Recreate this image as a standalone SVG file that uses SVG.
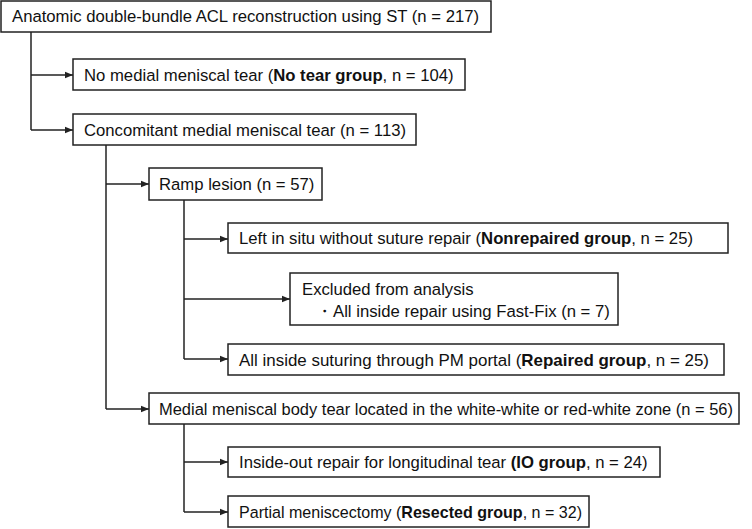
<svg xmlns="http://www.w3.org/2000/svg" width="752" height="529" viewBox="0 0 752 529">
<style>
.box{fill:#fff;stroke:#222;stroke-width:1.5}
.t{font-family:"Liberation Sans",Arial,sans-serif;font-size:16.7px;fill:#111}
.b{font-weight:bold}
.c{fill:none;stroke:#222;stroke-width:1.5}
</style>
<defs>
<marker id="ah" markerWidth="8" markerHeight="8" refX="8" refY="4" orient="auto" markerUnits="userSpaceOnUse">
<path d="M0,0.8 L8,4 L0,7.2 Z" fill="#222"/>
</marker>
</defs>
<rect width="752" height="529" fill="#fff"/>
<g id="connectors">
<path class="c" d="M31,32 V130"/>
<path class="c" d="M31,75 H73" marker-end="url(#ah)"/>
<path class="c" d="M31,130 H73" marker-end="url(#ah)"/>
<path class="c" d="M106,145 V409"/>
<path class="c" d="M106,184 H149" marker-end="url(#ah)"/>
<path class="c" d="M106,409 H149" marker-end="url(#ah)"/>
<path class="c" d="M184,200 V359"/>
<path class="c" d="M184,239 H228" marker-end="url(#ah)"/>
<path class="c" d="M184,299 H290" marker-end="url(#ah)"/>
<path class="c" d="M184,359 H228" marker-end="url(#ah)"/>
<path class="c" d="M184,424 V512"/>
<path class="c" d="M184,462 H228" marker-end="url(#ah)"/>
<path class="c" d="M184,512 H228" marker-end="url(#ah)"/>
</g>
<g id="n1"><rect class="box" x="1" y="1" width="490" height="31"/>
<text class="t" x="12" y="22">Anatomic double-bundle ACL reconstruction using ST (n = 217)</text></g>
<g id="n2"><rect class="box" x="73" y="59" width="392" height="31"/>
<text class="t" x="84" y="81">No medial meniscal tear (<tspan class="b">No tear group</tspan>, n = 104)</text></g>
<g id="n3"><rect class="box" x="73" y="114" width="343" height="31"/>
<text class="t" x="84" y="136">Concomitant medial meniscal tear (n = 113)</text></g>
<g id="n4"><rect class="box" x="149" y="168" width="173" height="32"/>
<text class="t" x="159" y="190">Ramp lesion (n = 57)</text></g>
<g id="n5"><rect class="box" x="228" y="223" width="500" height="30"/>
<text class="t" x="239" y="244">Left in situ without suture repair (<tspan class="b">Nonrepaired group</tspan>, n = 25)</text></g>
<g id="n6"><rect class="box" x="290" y="273" width="328" height="52"/>
<text class="t" x="302" y="295">Excluded from analysis</text>
<text class="t" x="316" y="317">・All inside repair using Fast-Fix (n = 7)</text></g>
<g id="n7"><rect class="box" x="228" y="344" width="496" height="31"/>
<text class="t" x="239" y="366" textLength="470" lengthAdjust="spacingAndGlyphs">All inside suturing through PM portal (<tspan class="b">Repaired group</tspan>, n = 25)</text></g>
<g id="n8"><rect class="box" x="149" y="393" width="590" height="31"/>
<text class="t" x="159" y="415" textLength="574" lengthAdjust="spacingAndGlyphs">Medial meniscal body tear located in the white-white or red-white zone (n = 56)</text></g>
<g id="n9"><rect class="box" x="228" y="447" width="432" height="30"/>
<text class="t" x="239" y="468">Inside-out repair for longitudinal tear <tspan class="b">(IO group</tspan>, n = 24)</text></g>
<g id="n10"><rect class="box" x="228" y="496" width="361" height="31"/>
<text class="t" x="239" y="518" textLength="343" lengthAdjust="spacingAndGlyphs">Partial meniscectomy (<tspan class="b">Resected group</tspan>, n = 32)</text></g>
</svg>
